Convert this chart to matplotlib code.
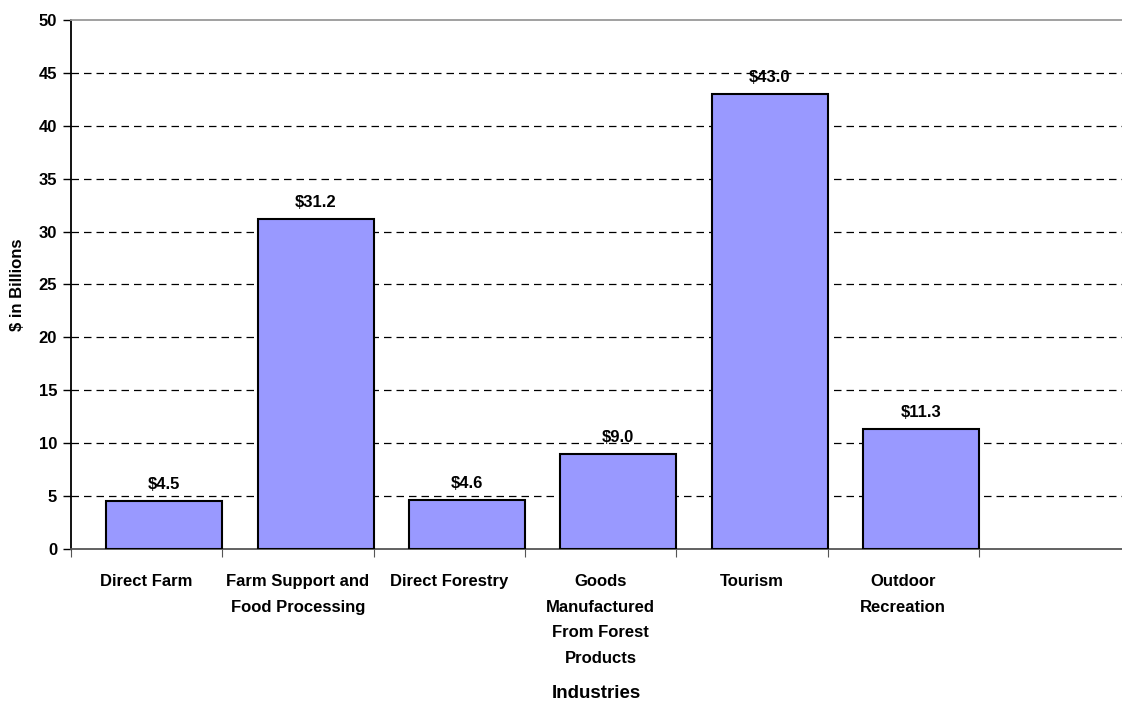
import matplotlib.pyplot as plt
import numpy as np

# data
industries = ["Direct Farm", "Farm Support and\nFood Processing", "Direct Forestry",
              "Goods\nManufactured\nFrom Forest\nProducts", "Tourism", "Outdoor\nRecreation"]
values = [4.5, 31.2, 4.6, 9.0, 43.0, 11.3]
value_labels = ["$4.5", "$31.2", "$4.6", "$9.0", "$43.0", "$11.3"]
y_ticks = [0, 5, 10, 15, 20, 25, 30, 35, 40, 45, 50]

plt.rcParams['font.family'] = ['Liberation Sans', 'DejaVu Sans']
plt.rcParams['font.weight'] = 'bold'

fig = plt.figure(figsize=(11.22, 7.02), dpi=100)
ax = fig.add_axes([0.0633, 0.218, 0.9367, 0.7535])

# each category sits in a slot [i, i+1]; excel put the bars on the right of the slot
bar_w = 0.767
slots = np.arange(len(values))
ax.bar(slots + 1 - bar_w / 2, values, width=bar_w, color="#9999FF",
       edgecolor="black", linewidth=1.5, zorder=3)

for x, v, lab in zip(slots + 1 - bar_w / 2, values, value_labels):
    ax.annotate(lab, (x, v), xytext=(0, 6.5), textcoords="offset points",
                ha="center", va="bottom", fontsize=12, fontweight="bold")

ax.set_ylim(0, 50)
ax.set_xlim(0, 6.946)
ax.set_yticks(y_ticks)
ax.set_yticklabels([str(t) for t in y_ticks], fontsize=12, fontweight="bold")

# dashed gridlines (not at 0 and 50)
for t in y_ticks[1:-1]:
    ax.axhline(t, color="black", linestyle=(0, (6, 4)), linewidth=0.9, zorder=1)

# ticks at slot boundaries, labels at slot centres
ax.set_xticks(np.arange(0, 7))
ax.set_xticklabels([])
ax.set_xticks(slots + 0.5, minor=True)
ax.set_xticklabels(industries, minor=True, fontsize=12, fontweight="bold",
                   linespacing=1.88, va="top")
ax.tick_params(axis="x", which="minor", length=0, pad=18)
ax.tick_params(axis="x", which="major", length=6, color="#555555", direction="out")
ax.tick_params(axis="y", length=6, width=1, direction="out", pad=4)

ax.spines["left"].set_color("black")
ax.spines["left"].set_linewidth(1.3)
ax.spines["bottom"].set_color("#555555")
ax.spines["bottom"].set_linewidth(1.3)
ax.spines["top"].set_color("#999999")
ax.spines["top"].set_linewidth(1.3)
ax.spines["right"].set_visible(False)

ax.set_ylabel("$ in Billions", fontsize=12, fontweight="bold", labelpad=10)
ax.set_xlabel("Industries", fontsize=13.5, fontweight="bold", labelpad=14)

fig.savefig("out.png", dpi=100)
